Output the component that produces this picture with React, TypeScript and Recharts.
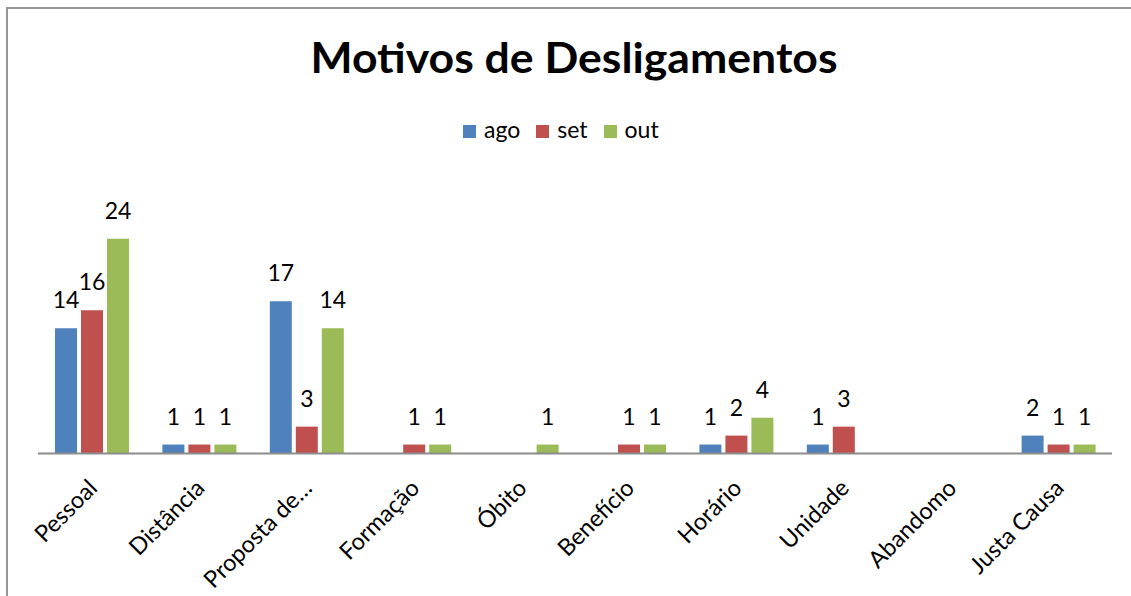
import React from "react";
import { BarChart, Bar, XAxis, YAxis, LabelList } from "recharts";

const categories = [
  "Pessoal",
  "Distância",
  "Proposta de…",
  "Formação",
  "Óbito",
  "Benefício",
  "Horário",
  "Unidade",
  "Abandomo",
  "Justa Causa",
];
const ago: (number | null)[] = [14, 1, 17, null, null, null, 1, 1, null, 2];
const set: (number | null)[] = [16, 1, 3, 1, null, 1, 2, 3, null, 1];
const out: (number | null)[] = [24, 1, 14, 1, 1, 1, 4, null, null, 1];

const series = [
  { key: "ago", name: "ago", color: "#4F81BD", values: ago },
  { key: "set", name: "set", color: "#C0504D", values: set },
  { key: "out", name: "out", color: "#9BBB59", values: out },
];

const data = categories.map((c, i) => ({
  name: c,
  ago: ago[i],
  set: set[i],
  out: out[i],
}));

const FONT = "Lato, 'Open Sans', sans-serif";

const renderLabel = (props: any) => {
  const { x, y, width, value } = props;
  if (value === null || value === undefined) return null;
  return (
    <text
      x={x + width / 2}
      y={y - 20}
      textAnchor="middle"
      fontFamily={FONT}
      fontSize={23}
      fill="#000"
    >
      {value}
    </text>
  );
};

const renderTick = (props: any) => {
  const { x, y, payload } = props;
  const ax = x + 7;
  const ay = y + 36;
  return (
    <text
      x={ax}
      y={ay}
      textAnchor="end"
      fontFamily={FONT}
      fontSize={23.5}
      fill="#000"
      transform={`rotate(-45, ${ax}, ${ay})`}
    >
      {payload.value}
    </text>
  );
};

export default function App() {
  return (
    <div
      style={{
        position: "absolute",
        left: 0,
        top: 0,
        width: 1131,
        height: 596,
        overflow: "hidden",
        background: "#fff",
      }}
    >
      <div
        style={{
          position: "absolute",
          left: 6,
          top: 7,
          width: 1300,
          height: 800,
          borderLeft: "2px solid #969696",
          borderTop: "2px solid #969696",
        }}
      />
      <svg
        width={1131}
        height={120}
        style={{ position: "absolute", left: 0, top: 0 }}
      >
        <text
          x={574}
          y={73}
          textAnchor="middle"
          fontFamily={FONT}
          fontWeight="bold"
          fontSize={42}
          textLength={527}
          lengthAdjust="spacingAndGlyphs"
          fill="#000"
        >
          Motivos de Desligamentos
        </text>
      </svg>
      <div
        style={{
          position: "absolute",
          left: 463,
          top: 115,
          display: "flex",
          alignItems: "center",
          fontFamily: FONT,
          fontSize: 23,
          color: "#000",
          whiteSpace: "nowrap",
        }}
      >
        {series.map((s) => (
          <div
            key={s.key}
            style={{ display: "flex", alignItems: "center", marginRight: 16 }}
          >
            <div
              style={{
                width: 13,
                height: 13,
                background: s.color,
                marginRight: 8,
                marginTop: 4,
              }}
            />
            <span>{s.name}</span>
          </div>
        ))}
      </div>
      <div style={{ position: "absolute", left: 0, top: 0 }}>
        <BarChart
          width={1131}
          height={596}
          data={data}
          margin={{ top: 185, right: 19, bottom: 0, left: 38 }}
          barSize={22}
          barGap={4}
        >
          <XAxis
            dataKey="name"
            interval={0}
            tickLine={false}
            tickSize={0}
            tickMargin={0}
            axisLine={{ stroke: "#8c8c8c", strokeWidth: 2 }}
            tick={renderTick}
            height={142.5}
          />
          <YAxis hide domain={[0, 30]} />
          {series.map((s) => (
            <Bar
              key={s.key}
              dataKey={s.key}
              name={s.name}
              fill={s.color}
              isAnimationActive={false}
            >
              <LabelList dataKey={s.key} content={renderLabel} />
            </Bar>
          ))}
        </BarChart>
      </div>
    </div>
  );
}
